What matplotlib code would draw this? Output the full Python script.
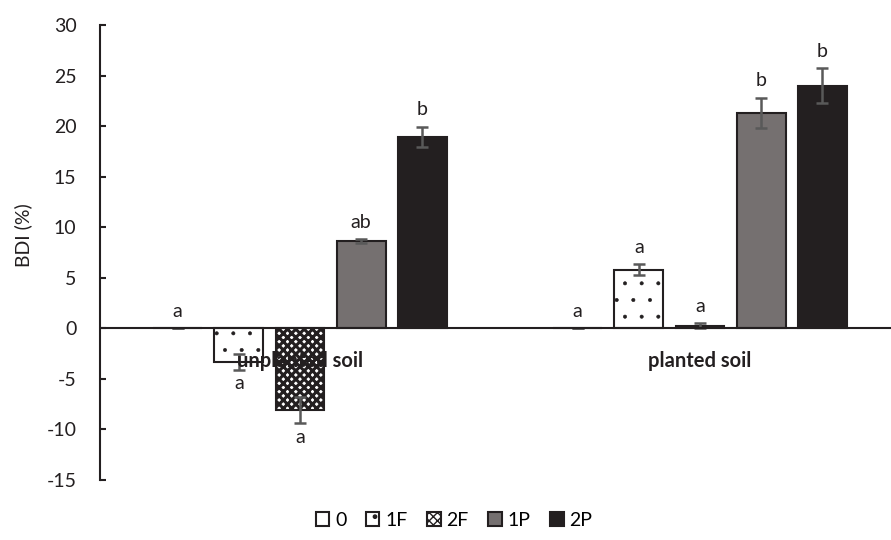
import matplotlib
matplotlib.use("Agg")
import matplotlib.pyplot as plt
import numpy as np

plt.rcParams['font.family'] = ['Lato', 'DejaVu Sans']
plt.rcParams['axes.unicode_minus'] = False

categories = ["unplanted soil", "planted soil"]
series = ["0", "1F", "2F", "1P", "2P"]
values = {
    "0":  [0.0, 0.0],
    "1F": [-3.3, 5.8],
    "2F": [-8.1, 0.25],
    "1P": [8.6, 21.3],
    "2P": [18.95, 24.0],
}
errors = {
    "0":  [0.0, 0.0],
    "1F": [0.8, 0.55],
    "2F": [1.3, 0.25],
    "1P": [0.2, 1.5],
    "2P": [1.0, 1.7],
}
letters = {
    "0":  ["a", "a"],
    "1F": ["a", "a"],
    "2F": ["a", "a"],
    "1P": ["ab", "b"],
    "2P": ["b", "b"],
}

dark = '#231f20'
styles = {
    "0":  dict(facecolor='white', hatch=None, hlw=1.0),
    "1F": dict(facecolor='white', hatch='.', hlw=0.4),
    "2F": dict(facecolor='white', hatch='xxxx', hlw=2.2),
    "1P": dict(facecolor='#757070', hatch=None, hlw=1.0),
    "2P": dict(facecolor=dark, hatch=None, hlw=1.0),
}

fig = plt.figure(figsize=(8.91, 5.4), dpi=100)
ax = fig.add_axes([100/891, 60/540, 800/891, 455/540])

fs = 14
x = np.arange(len(categories))
step = 0.153
width = 0.122
handles = []
for i, s in enumerate(series):
    xs = x + (i - 2) * step
    st = styles[s]
    with plt.rc_context({'hatch.linewidth': st['hlw']}):
        bars = ax.bar(xs, values[s], width=width, facecolor=st['facecolor'],
                      edgecolor=dark, linewidth=1.5, hatch=st['hatch'], zorder=2,
                      label=s)
    for p in bars:
        if hasattr(p, 'set_hatch_linewidth'):
            p.set_hatch_linewidth(st['hlw'])
    handles.append(bars)
    ax.errorbar(xs, values[s], yerr=errors[s], fmt='none', ecolor='#595959',
                elinewidth=1.8, capsize=4.5, capthick=1.8, zorder=3)
    for xi, v, e, lab in zip(xs, values[s], errors[s], letters[s]):
        if v >= 0:
            ax.annotate(lab, (xi, v + e), xytext=(0, 6), textcoords='offset points',
                        ha='center', va='bottom', fontsize=fs, color=dark)
        else:
            ax.annotate(lab, (xi, v - e), xytext=(0, -4), textcoords='offset points',
                        ha='center', va='top', fontsize=fs, color=dark)

ax.axhline(0, color=dark, linewidth=1.5, zorder=4)
for xc, c in zip(x, categories):
    ax.text(xc, -3.2, c, ha='center', va='center', fontsize=14.5, fontweight='bold',
            color=dark, zorder=5)

ax.set_xlim(-0.5, 1.5)
ax.set_ylim(-15, 30)
ax.set_yticks(np.arange(-15, 31, 5))
ax.set_xticks([])
for sp in ['top', 'right', 'bottom']:
    ax.spines[sp].set_visible(False)
ax.spines['left'].set_color(dark)
ax.spines['left'].set_linewidth(1.5)
ax.tick_params(axis='y', direction='in', length=4, width=1.5, colors=dark,
               pad=17, labelsize=fs)
ax.set_ylabel("BDI (%)", fontsize=fs, color=dark)
ax.yaxis.set_label_coords(-0.085, 0.538)

fig.legend(handles=handles, labels=series, loc='center', bbox_to_anchor=(454/891, 20/540),
           ncol=5, frameon=False, fontsize=fs, handlelength=0.7, handleheight=0.7,
           handletextpad=0.3, columnspacing=1.0)

fig.savefig("out.png", dpi=100)
